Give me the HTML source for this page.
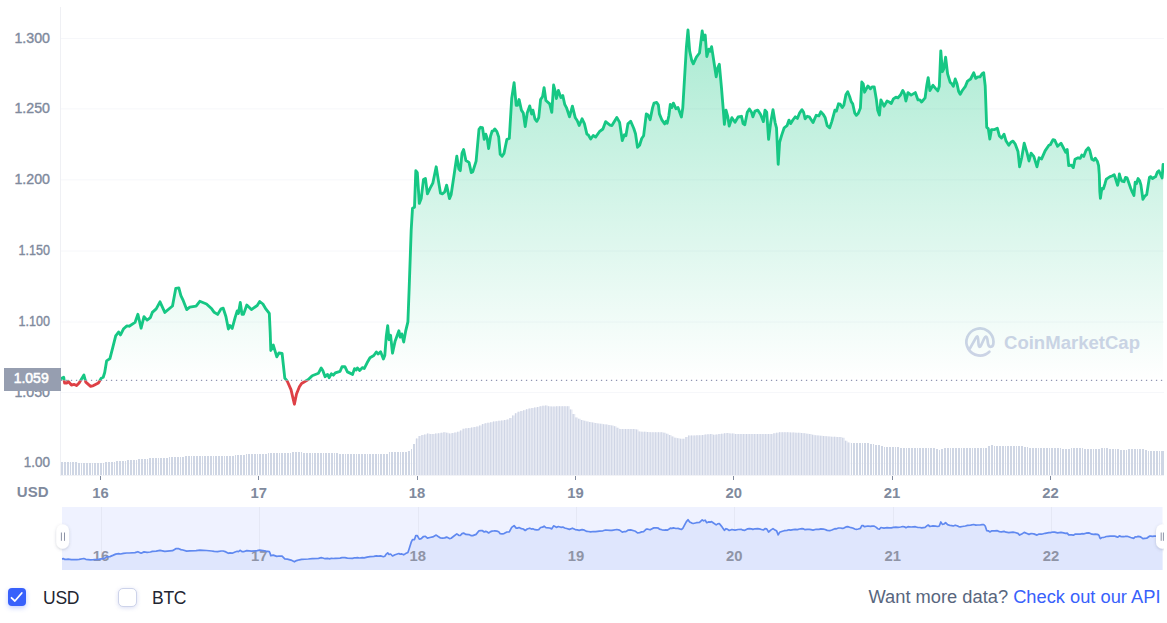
<!DOCTYPE html>
<html><head><meta charset="utf-8"><title>Chart</title>
<style>
html,body{margin:0;padding:0;background:#fff;}
body{width:1167px;height:623px;overflow:hidden;position:relative;font-family:"Liberation Sans",sans-serif;}
svg{position:absolute;left:0;top:0;}
svg text{font-family:"Liberation Sans",sans-serif;}
.cb{position:absolute;top:588px;width:18px;height:18px;border-radius:4px;box-sizing:border-box;}
.cb1{left:8px;background:#3861fb;box-shadow:0 2px 5px rgba(56,97,251,.3);}
.cb2{left:117.5px;top:587.5px;width:19px;height:19px;border-radius:5px;background:#fff;border:1px solid #cdd3ea;box-shadow:0 1px 4px rgba(88,102,200,.22);}
.lbl{position:absolute;top:586.5px;font-size:17.5px;letter-spacing:-0.25px;line-height:22px;color:#222531;white-space:nowrap;}
.api{position:absolute;top:586px;right:6.5px;font-size:18.3px;line-height:22px;color:#58667e;white-space:nowrap;}
.api span{color:#3861fb;}
</style></head><body>
<svg width="1167" height="623" viewBox="0 0 1167 623">
<defs>
<linearGradient id="gfill" gradientUnits="userSpaceOnUse" x1="0" y1="30" x2="0" y2="380.4">
<stop offset="0" stop-color="#16c784" stop-opacity="0.36"/>
<stop offset="1" stop-color="#16c784" stop-opacity="0"/>
</linearGradient>
<linearGradient id="rfill" gradientUnits="userSpaceOnUse" x1="0" y1="380.4" x2="0" y2="410">
<stop offset="0" stop-color="#de4046" stop-opacity="0"/>
<stop offset="1" stop-color="#de4046" stop-opacity="0.25"/>
</linearGradient>
<clipPath id="up"><rect x="61.0" y="0" width="1110" height="380.4"/></clipPath>
<clipPath id="dn"><rect x="61.0" y="380.4" width="1110" height="100"/></clipPath>
<clipPath id="plot"><rect x="61.0" y="0" width="1103.0" height="480"/></clipPath>
<clipPath id="all"><rect x="0" y="0" width="1164" height="623"/></clipPath>
<filter id="sh" x="-50%" y="-50%" width="200%" height="200%"><feDropShadow dx="0" dy="1" stdDeviation="1.5" flood-color="#58667e" flood-opacity="0.3"/></filter>
</defs>
<!-- grid -->
<g stroke="#f6f7fa" stroke-width="1"><line x1="61.0" x2="1164" y1="38.5" y2="38.5"/><line x1="61.0" x2="1164" y1="108.9" y2="108.9"/><line x1="61.0" x2="1164" y1="179.9" y2="179.9"/><line x1="61.0" x2="1164" y1="251.0" y2="251.0"/><line x1="61.0" x2="1164" y1="322.0" y2="322.0"/><line x1="61.0" x2="1164" y1="392.5" y2="392.5"/><line x1="61.0" x2="1164" y1="463.4" y2="463.4"/><line x1="61" x2="1164" y1="475.5" y2="475.5" stroke="#f1f2f6"/></g>
<line x1="60.5" x2="60.5" y1="7" y2="476" stroke="#eff0f4" stroke-width="1" shape-rendering="crispEdges"/>
<!-- y labels -->
<g font-size="14.5" fill="#808a9d" stroke="#808a9d" stroke-width="0.4"><text x="14.4" y="42.5" textLength="35.6" lengthAdjust="spacingAndGlyphs">1.300</text><text x="14.4" y="113.3" textLength="35.6" lengthAdjust="spacingAndGlyphs">1.250</text><text x="14.4" y="184.1" textLength="35.6" lengthAdjust="spacingAndGlyphs">1.200</text><text x="18.6" y="254.9" textLength="31.4" lengthAdjust="spacingAndGlyphs">1.150</text><text x="18.6" y="325.8" textLength="31.4" lengthAdjust="spacingAndGlyphs">1.100</text><text x="14.4" y="396.6" textLength="35.6" lengthAdjust="spacingAndGlyphs">1.050</text><text x="23.8" y="467.3" textLength="26.2" lengthAdjust="spacingAndGlyphs">1.00</text></g>
<!-- watermark -->
<g fill="none" stroke="#d0d4e8" stroke-width="2.7" stroke-linecap="round" stroke-linejoin="round">
<path d="M989.4,351.7 A13.55,13.55 0 1 1 993.5,341.7 C993.5,344.8 992.4,346.8 990.5,346.8 C988.6,346.8 988.0,344.5 987.7,341.5 C987.4,338.5 987.0,336.6 986.0,336.6 C985.0,336.6 984.4,338 983.5,340 L981,345.5 C980.5,346.6 980.0,346.9 979.5,346.9 C978.6,346.9 978.5,345 978.4,342.5 C978.3,339 978.2,336.3 977.3,336.3 C976.5,336.3 976,337.5 975.3,338.8 L969.8,348.7"/>
</g>
<text x="1004" y="349.4" font-size="19" font-weight="bold" fill="#d0d4e8" textLength="136" lengthAdjust="spacingAndGlyphs">CoinMarketCap</text>
<!-- volume -->
<path d="M61,462h2V475h-2zM64,462h2V475h-2zM67,462h2V475h-2zM70,462h1V475h-1zM72,462h2V475h-2zM75,462h2V475h-2zM78,463h2V475h-2zM81,463h1V475h-1zM83,463h2V475h-2zM86,463h2V475h-2zM89,463h2V475h-2zM92,463h1V475h-1zM94,463h2V475h-2zM97,463h2V475h-2zM100,463h2V475h-2zM103,463h1V475h-1zM105,462h2V475h-2zM108,462h2V475h-2zM111,462h2V475h-2zM114,462h1V475h-1zM116,461h2V475h-2zM119,461h2V475h-2zM122,461h2V475h-2zM125,461h1V475h-1zM127,460h2V475h-2zM130,460h2V475h-2zM133,460h2V475h-2zM136,460h1V475h-1zM138,459h2V475h-2zM141,459h2V475h-2zM144,459h2V475h-2zM147,459h1V475h-1zM149,458h2V475h-2zM152,458h2V475h-2zM155,458h2V475h-2zM158,458h1V475h-1zM160,458h2V475h-2zM163,458h2V475h-2zM166,458h2V475h-2zM169,457h1V475h-1zM171,457h2V475h-2zM174,457h2V475h-2zM177,457h2V475h-2zM180,457h1V475h-1zM182,457h2V475h-2zM185,456h2V475h-2zM188,456h2V475h-2zM191,456h1V475h-1zM193,456h2V475h-2zM196,456h2V475h-2zM199,456h2V475h-2zM202,456h1V475h-1zM204,456h2V475h-2zM207,456h2V475h-2zM210,456h2V475h-2zM213,456h1V475h-1zM215,456h2V475h-2zM218,456h2V475h-2zM221,456h2V475h-2zM224,456h1V475h-1zM226,456h2V475h-2zM229,456h2V475h-2zM232,456h2V475h-2zM235,455h1V475h-1zM237,455h2V475h-2zM240,455h2V475h-2zM243,455h2V475h-2zM246,454h1V475h-1zM248,454h2V475h-2zM251,454h2V475h-2zM254,454h2V475h-2zM257,454h1V475h-1zM259,454h2V475h-2zM262,454h2V475h-2zM265,454h2V475h-2zM268,453h1V475h-1zM270,453h2V475h-2zM273,453h2V475h-2zM276,453h2V475h-2zM279,453h1V475h-1zM281,453h2V475h-2zM284,453h2V475h-2zM287,453h2V475h-2zM290,453h1V475h-1zM292,452h2V475h-2zM295,452h2V475h-2zM298,452h2V475h-2zM301,452h1V475h-1zM303,453h2V475h-2zM306,453h2V475h-2zM309,453h2V475h-2zM312,453h1V475h-1zM314,453h2V475h-2zM317,453h2V475h-2zM320,453h2V475h-2zM323,453h1V475h-1zM325,453h2V475h-2zM328,453h2V475h-2zM331,453h2V475h-2zM334,453h1V475h-1zM336,453h2V475h-2zM339,454h2V475h-2zM342,454h2V475h-2zM345,454h1V475h-1zM347,454h2V475h-2zM350,454h2V475h-2zM353,454h2V475h-2zM356,454h1V475h-1zM358,454h2V475h-2zM361,454h2V475h-2zM364,454h2V475h-2zM367,454h1V475h-1zM369,454h2V475h-2zM372,454h2V475h-2zM375,454h2V475h-2zM378,454h1V475h-1zM380,454h2V475h-2zM383,454h2V475h-2zM386,454h2V475h-2zM389,452h1V475h-1zM391,452h2V475h-2zM394,452h2V475h-2zM397,452h2V475h-2zM400,452h1V475h-1zM402,452h2V475h-2zM405,452h2V475h-2zM408,451h2V475h-2zM411,449h1V475h-1zM413,444h2V475h-2zM851,443h1V475h-1zM853,443h2V475h-2zM856,443h2V475h-2zM859,443h2V475h-2zM862,443h1V475h-1zM864,443h2V475h-2zM867,443h2V475h-2zM870,444h2V475h-2zM873,444h1V475h-1zM875,445h2V475h-2zM878,445h2V475h-2zM881,446h2V475h-2zM884,447h1V475h-1zM886,447h2V475h-2zM889,447h2V475h-2zM892,447h2V475h-2zM895,447h1V475h-1zM897,447h2V475h-2zM900,448h2V475h-2zM903,448h2V475h-2zM906,448h1V475h-1zM908,448h2V475h-2zM911,448h2V475h-2zM914,448h2V475h-2zM917,448h1V475h-1zM919,448h2V475h-2zM922,448h2V475h-2zM925,448h2V475h-2zM928,448h1V475h-1zM930,448h2V475h-2zM933,448h2V475h-2zM936,449h2V475h-2zM939,450h1V475h-1zM941,449h2V475h-2zM944,448h2V475h-2zM947,448h2V475h-2zM950,448h1V475h-1zM952,448h2V475h-2zM955,448h2V475h-2zM958,448h2V475h-2zM961,448h1V475h-1zM963,448h2V475h-2zM966,448h2V475h-2zM969,448h2V475h-2zM972,448h1V475h-1zM974,448h2V475h-2zM977,448h2V475h-2zM980,448h2V475h-2zM983,448h1V475h-1zM985,448h2V475h-2zM988,446h2V475h-2zM991,445h2V475h-2zM994,446h1V475h-1zM996,446h2V475h-2zM999,446h2V475h-2zM1002,446h2V475h-2zM1005,446h1V475h-1zM1007,446h2V475h-2zM1010,446h2V475h-2zM1013,446h2V475h-2zM1016,446h1V475h-1zM1018,446h2V475h-2zM1021,446h2V475h-2zM1024,447h2V475h-2zM1027,447h1V475h-1zM1029,448h2V475h-2zM1032,448h2V475h-2zM1035,448h2V475h-2zM1038,448h1V475h-1zM1040,448h2V475h-2zM1043,448h2V475h-2zM1046,448h2V475h-2zM1049,448h1V475h-1zM1051,448h2V475h-2zM1054,448h2V475h-2zM1057,448h2V475h-2zM1060,448h1V475h-1zM1062,449h2V475h-2zM1065,449h2V475h-2zM1068,449h2V475h-2zM1071,448h1V475h-1zM1073,448h2V475h-2zM1076,448h2V475h-2zM1079,448h2V475h-2zM1082,448h1V475h-1zM1084,449h2V475h-2zM1087,449h2V475h-2zM1090,449h2V475h-2zM1093,449h1V475h-1zM1095,449h2V475h-2zM1098,449h2V475h-2zM1101,448h2V475h-2zM1104,448h1V475h-1zM1106,448h2V475h-2zM1109,449h2V475h-2zM1112,449h2V475h-2zM1115,449h1V475h-1zM1117,449h2V475h-2zM1120,450h2V475h-2zM1123,450h2V475h-2zM1126,450h1V475h-1zM1128,449h2V475h-2zM1131,449h2V475h-2zM1134,449h2V475h-2zM1137,449h1V475h-1zM1139,449h2V475h-2zM1142,449h2V475h-2zM1145,450h2V475h-2zM1148,451h1V475h-1zM1150,451h2V475h-2zM1153,451h2V475h-2zM1156,451h2V475h-2zM1159,451h1V475h-1zM1161,451h3V475h-3z" fill="#cfd6e4" shape-rendering="crispEdges" clip-path="url(#plot)"/>
<path d="M415.75,438.5h2.8V475h-2.8zM418.50,435.9h2.8V475h-2.8zM421.25,435.1h2.8V475h-2.8zM424.00,434.4h2.8V475h-2.8zM426.75,433.6h2.8V475h-2.8zM429.50,434.1h2.8V475h-2.8zM432.25,434.0h2.8V475h-2.8zM435.00,433.6h2.8V475h-2.8zM437.75,433.2h2.8V475h-2.8zM440.50,432.7h2.8V475h-2.8zM443.25,432.3h2.8V475h-2.8zM446.00,432.8h2.8V475h-2.8zM448.75,433.4h2.8V475h-2.8zM451.50,432.9h2.8V475h-2.8zM454.25,432.4h2.8V475h-2.8zM457.00,431.8h2.8V475h-2.8zM459.75,430.5h2.8V475h-2.8zM462.50,428.7h2.8V475h-2.8zM465.25,428.2h2.8V475h-2.8zM468.00,427.9h2.8V475h-2.8zM470.75,427.4h2.8V475h-2.8zM473.50,427.0h2.8V475h-2.8zM476.25,426.5h2.8V475h-2.8zM479.00,425.4h2.8V475h-2.8zM481.75,424.1h2.8V475h-2.8zM484.50,423.2h2.8V475h-2.8zM487.25,422.7h2.8V475h-2.8zM490.00,422.2h2.8V475h-2.8zM492.75,421.6h2.8V475h-2.8zM495.50,421.2h2.8V475h-2.8zM498.25,420.8h2.8V475h-2.8zM501.00,420.4h2.8V475h-2.8zM503.75,420.0h2.8V475h-2.8zM506.50,419.5h2.8V475h-2.8zM509.25,417.9h2.8V475h-2.8zM512.00,415.4h2.8V475h-2.8zM514.75,413.3h2.8V475h-2.8zM517.50,411.7h2.8V475h-2.8zM520.25,410.9h2.8V475h-2.8zM523.00,410.2h2.8V475h-2.8zM525.75,409.3h2.8V475h-2.8zM528.50,408.5h2.8V475h-2.8zM531.25,408.0h2.8V475h-2.8zM534.00,407.5h2.8V475h-2.8zM536.75,406.9h2.8V475h-2.8zM539.50,406.2h2.8V475h-2.8zM542.25,405.7h2.8V475h-2.8zM545.00,405.6h2.8V475h-2.8zM547.75,406.2h2.8V475h-2.8zM550.50,406.6h2.8V475h-2.8zM553.25,406.4h2.8V475h-2.8zM556.00,406.2h2.8V475h-2.8zM558.75,406.2h2.8V475h-2.8zM561.50,406.2h2.8V475h-2.8zM564.25,406.2h2.8V475h-2.8zM567.00,406.2h2.8V475h-2.8zM569.75,409.6h2.8V475h-2.8zM572.50,413.9h2.8V475h-2.8zM575.25,417.6h2.8V475h-2.8zM578.00,418.8h2.8V475h-2.8zM580.75,420.1h2.8V475h-2.8zM583.50,420.8h2.8V475h-2.8zM586.25,421.5h2.8V475h-2.8zM589.00,422.1h2.8V475h-2.8zM591.75,422.6h2.8V475h-2.8zM594.50,423.0h2.8V475h-2.8zM597.25,423.4h2.8V475h-2.8zM600.00,423.8h2.8V475h-2.8zM602.75,424.2h2.8V475h-2.8zM605.50,424.6h2.8V475h-2.8zM608.25,425.0h2.8V475h-2.8zM611.00,425.4h2.8V475h-2.8zM613.75,426.3h2.8V475h-2.8zM616.50,427.7h2.8V475h-2.8zM619.25,428.9h2.8V475h-2.8zM622.00,429.0h2.8V475h-2.8zM624.75,429.0h2.8V475h-2.8zM627.50,429.0h2.8V475h-2.8zM630.25,429.0h2.8V475h-2.8zM633.00,429.0h2.8V475h-2.8zM635.75,429.5h2.8V475h-2.8zM638.50,431.5h2.8V475h-2.8zM641.25,431.7h2.8V475h-2.8zM644.00,431.8h2.8V475h-2.8zM646.75,432.0h2.8V475h-2.8zM649.50,432.2h2.8V475h-2.8zM652.25,432.3h2.8V475h-2.8zM655.00,432.3h2.8V475h-2.8zM657.75,432.3h2.8V475h-2.8zM660.50,432.3h2.8V475h-2.8zM663.25,432.7h2.8V475h-2.8zM666.00,433.7h2.8V475h-2.8zM668.75,435.0h2.8V475h-2.8zM671.50,436.5h2.8V475h-2.8zM674.25,437.8h2.8V475h-2.8zM677.00,438.3h2.8V475h-2.8zM679.75,438.8h2.8V475h-2.8zM682.50,438.8h2.8V475h-2.8zM685.25,436.9h2.8V475h-2.8zM688.00,435.5h2.8V475h-2.8zM690.75,435.4h2.8V475h-2.8zM693.50,435.4h2.8V475h-2.8zM696.25,435.3h2.8V475h-2.8zM699.00,435.3h2.8V475h-2.8zM701.75,434.9h2.8V475h-2.8zM704.50,434.6h2.8V475h-2.8zM707.25,434.3h2.8V475h-2.8zM710.00,434.1h2.8V475h-2.8zM712.75,434.7h2.8V475h-2.8zM715.50,434.4h2.8V475h-2.8zM718.25,434.1h2.8V475h-2.8zM721.00,433.7h2.8V475h-2.8zM723.75,433.3h2.8V475h-2.8zM726.50,433.1h2.8V475h-2.8zM729.25,433.4h2.8V475h-2.8zM732.00,433.6h2.8V475h-2.8zM734.75,433.9h2.8V475h-2.8zM737.50,434.0h2.8V475h-2.8zM740.25,434.0h2.8V475h-2.8zM743.00,434.0h2.8V475h-2.8zM745.75,434.0h2.8V475h-2.8zM748.50,434.0h2.8V475h-2.8zM751.25,434.0h2.8V475h-2.8zM754.00,434.0h2.8V475h-2.8zM756.75,434.0h2.8V475h-2.8zM759.50,434.0h2.8V475h-2.8zM762.25,434.0h2.8V475h-2.8zM765.00,434.0h2.8V475h-2.8zM767.75,434.0h2.8V475h-2.8zM770.50,433.9h2.8V475h-2.8zM773.25,433.3h2.8V475h-2.8zM776.00,432.8h2.8V475h-2.8zM778.75,432.3h2.8V475h-2.8zM781.50,432.3h2.8V475h-2.8zM784.25,432.3h2.8V475h-2.8zM787.00,432.3h2.8V475h-2.8zM789.75,432.4h2.8V475h-2.8zM792.50,432.5h2.8V475h-2.8zM795.25,432.7h2.8V475h-2.8zM798.00,432.8h2.8V475h-2.8zM800.75,432.9h2.8V475h-2.8zM803.50,433.2h2.8V475h-2.8zM806.25,433.7h2.8V475h-2.8zM809.00,434.1h2.8V475h-2.8zM811.75,434.7h2.8V475h-2.8zM814.50,435.2h2.8V475h-2.8zM817.25,435.5h2.8V475h-2.8zM820.00,435.8h2.8V475h-2.8zM822.75,436.0h2.8V475h-2.8zM825.50,436.3h2.8V475h-2.8zM828.25,436.5h2.8V475h-2.8zM831.00,436.7h2.8V475h-2.8zM833.75,436.8h2.8V475h-2.8zM836.50,437.0h2.8V475h-2.8zM839.25,437.1h2.8V475h-2.8zM842.00,437.8h2.8V475h-2.8zM844.75,440.8h2.8V475h-2.8zM847.50,442.4h2.8V475h-2.8z" fill="#e7eaf3" clip-path="url(#plot)"/>
<path d="M415.95,438.5h1V475h-1zM418.70,435.9h1V475h-1zM421.45,435.1h1V475h-1zM424.20,434.4h1V475h-1zM426.95,433.6h1V475h-1zM429.70,434.1h1V475h-1zM432.45,434.0h1V475h-1zM435.20,433.6h1V475h-1zM437.95,433.2h1V475h-1zM440.70,432.7h1V475h-1zM443.45,432.3h1V475h-1zM446.20,432.8h1V475h-1zM448.95,433.4h1V475h-1zM451.70,432.9h1V475h-1zM454.45,432.4h1V475h-1zM457.20,431.8h1V475h-1zM459.95,430.5h1V475h-1zM462.70,428.7h1V475h-1zM465.45,428.2h1V475h-1zM468.20,427.9h1V475h-1zM470.95,427.4h1V475h-1zM473.70,427.0h1V475h-1zM476.45,426.5h1V475h-1zM479.20,425.4h1V475h-1zM481.95,424.1h1V475h-1zM484.70,423.2h1V475h-1zM487.45,422.7h1V475h-1zM490.20,422.2h1V475h-1zM492.95,421.6h1V475h-1zM495.70,421.2h1V475h-1zM498.45,420.8h1V475h-1zM501.20,420.4h1V475h-1zM503.95,420.0h1V475h-1zM506.70,419.5h1V475h-1zM509.45,417.9h1V475h-1zM512.20,415.4h1V475h-1zM514.95,413.3h1V475h-1zM517.70,411.7h1V475h-1zM520.45,410.9h1V475h-1zM523.20,410.2h1V475h-1zM525.95,409.3h1V475h-1zM528.70,408.5h1V475h-1zM531.45,408.0h1V475h-1zM534.20,407.5h1V475h-1zM536.95,406.9h1V475h-1zM539.70,406.2h1V475h-1zM542.45,405.7h1V475h-1zM545.20,405.6h1V475h-1zM547.95,406.2h1V475h-1zM550.70,406.6h1V475h-1zM553.45,406.4h1V475h-1zM556.20,406.2h1V475h-1zM558.95,406.2h1V475h-1zM561.70,406.2h1V475h-1zM564.45,406.2h1V475h-1zM567.20,406.2h1V475h-1zM569.95,409.6h1V475h-1zM572.70,413.9h1V475h-1zM575.45,417.6h1V475h-1zM578.20,418.8h1V475h-1zM580.95,420.1h1V475h-1zM583.70,420.8h1V475h-1zM586.45,421.5h1V475h-1zM589.20,422.1h1V475h-1zM591.95,422.6h1V475h-1zM594.70,423.0h1V475h-1zM597.45,423.4h1V475h-1zM600.20,423.8h1V475h-1zM602.95,424.2h1V475h-1zM605.70,424.6h1V475h-1zM608.45,425.0h1V475h-1zM611.20,425.4h1V475h-1zM613.95,426.3h1V475h-1zM616.70,427.7h1V475h-1zM619.45,428.9h1V475h-1zM622.20,429.0h1V475h-1zM624.95,429.0h1V475h-1zM627.70,429.0h1V475h-1zM630.45,429.0h1V475h-1zM633.20,429.0h1V475h-1zM635.95,429.5h1V475h-1zM638.70,431.5h1V475h-1zM641.45,431.7h1V475h-1zM644.20,431.8h1V475h-1zM646.95,432.0h1V475h-1zM649.70,432.2h1V475h-1zM652.45,432.3h1V475h-1zM655.20,432.3h1V475h-1zM657.95,432.3h1V475h-1zM660.70,432.3h1V475h-1zM663.45,432.7h1V475h-1zM666.20,433.7h1V475h-1zM668.95,435.0h1V475h-1zM671.70,436.5h1V475h-1zM674.45,437.8h1V475h-1zM677.20,438.3h1V475h-1zM679.95,438.8h1V475h-1zM682.70,438.8h1V475h-1zM685.45,436.9h1V475h-1zM688.20,435.5h1V475h-1zM690.95,435.4h1V475h-1zM693.70,435.4h1V475h-1zM696.45,435.3h1V475h-1zM699.20,435.3h1V475h-1zM701.95,434.9h1V475h-1zM704.70,434.6h1V475h-1zM707.45,434.3h1V475h-1zM710.20,434.1h1V475h-1zM712.95,434.7h1V475h-1zM715.70,434.4h1V475h-1zM718.45,434.1h1V475h-1zM721.20,433.7h1V475h-1zM723.95,433.3h1V475h-1zM726.70,433.1h1V475h-1zM729.45,433.4h1V475h-1zM732.20,433.6h1V475h-1zM734.95,433.9h1V475h-1zM737.70,434.0h1V475h-1zM740.45,434.0h1V475h-1zM743.20,434.0h1V475h-1zM745.95,434.0h1V475h-1zM748.70,434.0h1V475h-1zM751.45,434.0h1V475h-1zM754.20,434.0h1V475h-1zM756.95,434.0h1V475h-1zM759.70,434.0h1V475h-1zM762.45,434.0h1V475h-1zM765.20,434.0h1V475h-1zM767.95,434.0h1V475h-1zM770.70,433.9h1V475h-1zM773.45,433.3h1V475h-1zM776.20,432.8h1V475h-1zM778.95,432.3h1V475h-1zM781.70,432.3h1V475h-1zM784.45,432.3h1V475h-1zM787.20,432.3h1V475h-1zM789.95,432.4h1V475h-1zM792.70,432.5h1V475h-1zM795.45,432.7h1V475h-1zM798.20,432.8h1V475h-1zM800.95,432.9h1V475h-1zM803.70,433.2h1V475h-1zM806.45,433.7h1V475h-1zM809.20,434.1h1V475h-1zM811.95,434.7h1V475h-1zM814.70,435.2h1V475h-1zM817.45,435.5h1V475h-1zM820.20,435.8h1V475h-1zM822.95,436.0h1V475h-1zM825.70,436.3h1V475h-1zM828.45,436.5h1V475h-1zM831.20,436.7h1V475h-1zM833.95,436.8h1V475h-1zM836.70,437.0h1V475h-1zM839.45,437.1h1V475h-1zM842.20,437.8h1V475h-1zM844.95,440.8h1V475h-1zM847.70,442.4h1V475h-1z" fill="#ced4e4" clip-path="url(#plot)"/>
<!-- area + line -->
<g clip-path="url(#plot)">
<path d="M61.2,378.6 L63.7,377.3 L64.6,383.1 L66.9,383.0 L68.1,381.2 L71.4,385.0 L74.3,384.4 L76.6,385.6 L79.1,383.0 L83.9,375.0 L85.8,382.1 L90.6,386.4 L93.5,385.6 L98.4,383.0 L101.2,378.3 L103.2,377.3 L104.7,372.5 L106.6,360.9 L109.9,358.6 L112.8,347.4 L115.7,335.9 L118.6,332.0 L120.5,334.9 L123.4,329.1 L126.7,325.9 L129.2,326.2 L135.0,322.4 L137.9,314.3 L141.1,328.2 L144.0,316.6 L147.1,320.1 L150.4,317.6 L152.3,312.4 L156.2,308.9 L160.0,301.8 L164.8,312.4 L172.5,306.0 L175.8,288.3 L178.8,287.9 L180.9,295.7 L182.9,299.8 L186.7,309.6 L189.8,307.1 L196.1,306.1 L199.8,301.3 L206.5,304.0 L211.7,308.8 L214.2,312.3 L217.6,314.4 L221.1,308.8 L223.2,308.2 L225.9,316.5 L228.4,329.0 L229.9,325.5 L232.2,328.4 L235.1,317.6 L237.2,310.9 L238.4,313.4 L240.3,302.5 L242.0,314.4 L243.5,314.4 L246.8,305.0 L251.4,309.6 L257.2,305.5 L259.7,301.5 L262.9,304.0 L266.0,309.2 L269.3,313.4 L270.2,332.2 L270.8,350.5 L273.3,345.1 L276.8,356.8 L278.9,353.0 L282.1,353.5 L284.8,378.1 L287.3,381.2 L291.0,389.6 L294.4,404.2 L296.5,394.0 L299.4,386.8 L301.6,383.4 L308.3,379.6 L312.2,375.7 L318.5,373.2 L321.2,368.0 L322.8,370.5 L325.1,376.7 L327.6,374.4 L329.1,377.7 L331.4,373.8 L333.4,375.2 L335.3,372.9 L340.1,371.3 L342.0,366.7 L344.9,366.7 L347.4,371.9 L352.6,374.4 L354.5,368.6 L356.1,370.0 L357.4,368.0 L359.7,370.5 L362.3,367.6 L364.2,368.6 L367.1,362.8 L370.0,357.8 L373.8,355.5 L376.3,352.0 L378.2,354.0 L380.6,351.7 L383.4,359.0 L384.8,355.5 L386.3,336.2 L387.7,325.6 L389.0,339.7 L390.6,335.3 L392.5,353.2 L395.0,341.6 L398.9,330.8 L400.2,337.2 L401.8,333.9 L403.7,342.0 L405.6,331.4 L407.9,321.8 L409.1,290.0 L411.2,230.0 L412.5,208.3 L414.5,207.3 L415.8,170.7 L417.3,172.6 L419.3,203.4 L421.2,198.6 L423.5,179.4 L425.4,178.4 L427.4,193.8 L429.9,188.6 L432.8,183.2 L436.2,166.8 L438.2,179.4 L440.5,193.2 L442.4,193.8 L444.7,191.9 L446.6,185.1 L449.5,198.6 L451.1,194.8 L454.0,175.5 L456.8,156.2 L458.8,168.8 L460.3,170.7 L462.0,153.4 L463.6,149.5 L465.9,160.5 L469.0,162.4 L471.3,172.6 L472.8,171.7 L476.1,161.1 L479.0,129.3 L480.5,127.3 L482.5,127.7 L484.2,139.3 L485.7,134.1 L487.1,137.9 L488.6,148.5 L490.6,136.0 L492.1,131.2 L493.4,130.8 L494.8,128.9 L496.9,131.6 L498.7,137.0 L500.2,154.3 L502.1,156.2 L504.0,153.4 L506.9,139.3 L509.3,138.5 L511.7,98.5 L514.1,82.7 L516.2,105.3 L517.5,105.3 L519.1,99.5 L521.4,110.1 L523.3,113.0 L525.2,126.5 L527.2,113.0 L529.7,105.9 L531.6,114.0 L532.9,110.1 L534.9,118.8 L536.8,121.3 L538.7,117.8 L540.6,99.5 L542.6,96.6 L544.1,87.6 L545.9,100.5 L549.7,103.9 L551.8,112.4 L553.6,85.0 L555.1,90.8 L556.4,98.5 L558.4,90.4 L560.9,97.6 L562.8,95.6 L564.7,104.3 L566.7,108.2 L569.5,116.8 L572.4,106.2 L575.3,117.8 L577.3,120.7 L579.2,125.5 L582.1,118.8 L584.4,123.6 L586.9,134.2 L588.2,134.8 L590.7,139.0 L593.2,135.5 L595.6,137.1 L599.4,131.7 L602.9,129.0 L605.6,121.7 L610.0,125.1 L611.9,125.5 L616.8,117.4 L619.6,122.4 L622.3,140.6 L624.4,134.8 L625.9,135.8 L627.9,123.9 L630.7,121.2 L633.8,128.5 L635.5,133.7 L637.5,147.3 L639.6,145.2 L641.7,138.5 L643.6,135.8 L646.3,113.9 L648.0,115.0 L650.1,119.7 L652.6,107.6 L654.0,103.1 L656.7,102.4 L658.4,105.1 L659.4,113.9 L662.0,120.2 L664.7,123.9 L666.1,121.2 L667.2,123.3 L668.8,116.0 L670.3,104.5 L671.8,107.6 L673.4,103.1 L675.9,108.7 L678.0,107.6 L681.4,117.0 L682.8,107.6 L684.9,72.2 L686.4,47.1 L688.0,30.0 L689.7,51.3 L691.8,60.7 L693.3,63.8 L696.4,57.1 L699.5,53.0 L702.2,30.9 L703.5,39.8 L705.2,35.0 L706.8,56.5 L708.9,49.2 L710.2,51.3 L711.6,46.7 L713.1,56.5 L716.2,76.8 L717.7,68.0 L719.3,64.2 L721.4,86.8 L723.1,107.6 L724.4,124.3 L726.0,110.2 L727.7,116.4 L729.2,126.0 L731.9,117.7 L735.0,122.3 L738.1,117.0 L741.5,116.3 L743.1,123.6 L744.8,124.7 L747.3,112.2 L749.4,109.0 L751.5,112.2 L752.9,116.8 L755.0,111.1 L757.7,110.1 L760.5,114.3 L763.4,121.6 L765.0,110.1 L766.7,112.2 L768.6,139.3 L770.7,122.6 L773.0,109.7 L775.1,122.6 L776.5,127.8 L778.2,164.3 L779.6,142.4 L781.7,135.1 L784.2,127.8 L787.0,125.7 L789.0,120.1 L790.7,123.6 L793.2,119.5 L795.3,116.8 L797.4,118.4 L799.5,113.2 L802.0,109.7 L803.6,112.2 L805.1,118.8 L807.2,116.3 L809.3,116.8 L811.0,119.5 L813.0,122.6 L816.2,115.3 L818.9,115.9 L820.8,111.8 L823.5,114.7 L825.1,117.4 L827.2,125.7 L829.7,127.8 L831.8,121.6 L834.9,110.1 L836.4,111.1 L838.5,103.8 L840.2,104.2 L842.3,107.6 L843.9,104.9 L846.0,94.4 L847.7,91.7 L849.6,96.5 L851.2,101.7 L852.7,103.8 L854.8,113.2 L856.4,115.3 L858.3,113.2 L860.4,108.0 L861.8,82.0 L863.2,83.8 L864.6,92.2 L867.9,85.9 L870.4,88.8 L872.1,86.8 L874.2,86.8 L876.3,98.9 L877.7,110.3 L879.4,115.1 L880.9,99.9 L884.0,106.2 L887.1,101.0 L889.2,102.0 L891.3,103.5 L893.4,98.9 L895.9,97.2 L898.0,97.8 L900.7,94.7 L902.8,90.5 L904.4,93.6 L905.9,101.0 L908.0,92.6 L911.1,95.1 L915.3,92.6 L918.0,99.9 L919.9,99.9 L921.6,102.0 L925.1,97.8 L926.8,85.3 L928.2,77.6 L929.9,90.5 L933.0,85.3 L935.5,88.4 L937.8,90.9 L939.3,86.3 L940.8,50.9 L942.4,71.7 L943.9,68.6 L945.6,57.1 L947.6,73.8 L950.1,82.2 L951.8,83.8 L953.3,86.3 L955.2,79.0 L957.0,83.8 L958.7,91.6 L960.2,94.3 L962.3,90.5 L965.4,86.3 L967.5,81.1 L970.6,79.0 L973.7,72.8 L975.8,78.4 L977.9,76.9 L980.0,76.9 L982.1,73.8 L983.7,72.8 L985.2,86.0 L986.7,127.3 L988.3,128.6 L989.8,139.0 L991.5,129.6 L994.6,129.6 L997.3,128.2 L999.4,135.9 L1001.5,138.0 L1004.0,134.2 L1006.1,141.1 L1008.8,145.3 L1010.9,142.2 L1013.0,141.1 L1015.1,143.8 L1018.0,151.6 L1019.6,166.8 L1021.7,157.8 L1024.2,143.2 L1027.0,152.6 L1029.0,161.0 L1031.1,153.2 L1033.8,156.4 L1037.0,166.8 L1039.1,157.8 L1041.6,158.9 L1045.1,150.9 L1048.9,145.3 L1050.3,144.7 L1053.0,139.7 L1054.7,140.1 L1057.6,146.3 L1061.0,143.2 L1063.5,148.0 L1065.6,152.2 L1067.2,149.5 L1068.7,165.5 L1071.4,165.1 L1073.3,167.6 L1075.0,159.3 L1078.1,157.8 L1080.2,158.4 L1081.8,155.1 L1083.7,156.4 L1086.0,150.5 L1088.3,147.8 L1089.8,150.5 L1091.9,159.3 L1093.7,160.3 L1095.3,158.2 L1097.3,161.2 L1098.6,165.7 L1099.3,174.7 L1099.8,191.4 L1100.4,198.4 L1101.4,191.4 L1102.2,188.5 L1103.4,188.8 L1105.0,183.7 L1106.3,179.2 L1108.2,177.9 L1110.1,176.6 L1112.0,176.0 L1114.2,174.7 L1115.5,178.5 L1117.6,185.2 L1118.5,181.1 L1119.4,174.0 L1120.6,178.5 L1121.9,181.1 L1124.0,181.7 L1125.5,177.5 L1127.1,177.9 L1128.7,182.4 L1130.7,188.2 L1132.2,192.0 L1133.9,195.5 L1135.2,182.1 L1136.4,183.7 L1138.1,178.5 L1139.7,180.8 L1140.9,184.9 L1142.9,199.3 L1144.8,196.2 L1146.7,194.6 L1148.4,183.7 L1149.5,177.2 L1150.8,176.6 L1152.5,178.5 L1154.4,177.2 L1155.7,176.6 L1157.4,172.1 L1158.9,170.8 L1160.4,174.0 L1162.1,177.9 L1163.1,164.4 L1163.1,380.4 L61.2,380.4 Z" fill="url(#gfill)" clip-path="url(#up)"/>
<path d="M61.2,378.6 L63.7,377.3 L64.6,383.1 L66.9,383.0 L68.1,381.2 L71.4,385.0 L74.3,384.4 L76.6,385.6 L79.1,383.0 L83.9,375.0 L85.8,382.1 L90.6,386.4 L93.5,385.6 L98.4,383.0 L101.2,378.3 L103.2,377.3 L104.7,372.5 L106.6,360.9 L109.9,358.6 L112.8,347.4 L115.7,335.9 L118.6,332.0 L120.5,334.9 L123.4,329.1 L126.7,325.9 L129.2,326.2 L135.0,322.4 L137.9,314.3 L141.1,328.2 L144.0,316.6 L147.1,320.1 L150.4,317.6 L152.3,312.4 L156.2,308.9 L160.0,301.8 L164.8,312.4 L172.5,306.0 L175.8,288.3 L178.8,287.9 L180.9,295.7 L182.9,299.8 L186.7,309.6 L189.8,307.1 L196.1,306.1 L199.8,301.3 L206.5,304.0 L211.7,308.8 L214.2,312.3 L217.6,314.4 L221.1,308.8 L223.2,308.2 L225.9,316.5 L228.4,329.0 L229.9,325.5 L232.2,328.4 L235.1,317.6 L237.2,310.9 L238.4,313.4 L240.3,302.5 L242.0,314.4 L243.5,314.4 L246.8,305.0 L251.4,309.6 L257.2,305.5 L259.7,301.5 L262.9,304.0 L266.0,309.2 L269.3,313.4 L270.2,332.2 L270.8,350.5 L273.3,345.1 L276.8,356.8 L278.9,353.0 L282.1,353.5 L284.8,378.1 L287.3,381.2 L291.0,389.6 L294.4,404.2 L296.5,394.0 L299.4,386.8 L301.6,383.4 L308.3,379.6 L312.2,375.7 L318.5,373.2 L321.2,368.0 L322.8,370.5 L325.1,376.7 L327.6,374.4 L329.1,377.7 L331.4,373.8 L333.4,375.2 L335.3,372.9 L340.1,371.3 L342.0,366.7 L344.9,366.7 L347.4,371.9 L352.6,374.4 L354.5,368.6 L356.1,370.0 L357.4,368.0 L359.7,370.5 L362.3,367.6 L364.2,368.6 L367.1,362.8 L370.0,357.8 L373.8,355.5 L376.3,352.0 L378.2,354.0 L380.6,351.7 L383.4,359.0 L384.8,355.5 L386.3,336.2 L387.7,325.6 L389.0,339.7 L390.6,335.3 L392.5,353.2 L395.0,341.6 L398.9,330.8 L400.2,337.2 L401.8,333.9 L403.7,342.0 L405.6,331.4 L407.9,321.8 L409.1,290.0 L411.2,230.0 L412.5,208.3 L414.5,207.3 L415.8,170.7 L417.3,172.6 L419.3,203.4 L421.2,198.6 L423.5,179.4 L425.4,178.4 L427.4,193.8 L429.9,188.6 L432.8,183.2 L436.2,166.8 L438.2,179.4 L440.5,193.2 L442.4,193.8 L444.7,191.9 L446.6,185.1 L449.5,198.6 L451.1,194.8 L454.0,175.5 L456.8,156.2 L458.8,168.8 L460.3,170.7 L462.0,153.4 L463.6,149.5 L465.9,160.5 L469.0,162.4 L471.3,172.6 L472.8,171.7 L476.1,161.1 L479.0,129.3 L480.5,127.3 L482.5,127.7 L484.2,139.3 L485.7,134.1 L487.1,137.9 L488.6,148.5 L490.6,136.0 L492.1,131.2 L493.4,130.8 L494.8,128.9 L496.9,131.6 L498.7,137.0 L500.2,154.3 L502.1,156.2 L504.0,153.4 L506.9,139.3 L509.3,138.5 L511.7,98.5 L514.1,82.7 L516.2,105.3 L517.5,105.3 L519.1,99.5 L521.4,110.1 L523.3,113.0 L525.2,126.5 L527.2,113.0 L529.7,105.9 L531.6,114.0 L532.9,110.1 L534.9,118.8 L536.8,121.3 L538.7,117.8 L540.6,99.5 L542.6,96.6 L544.1,87.6 L545.9,100.5 L549.7,103.9 L551.8,112.4 L553.6,85.0 L555.1,90.8 L556.4,98.5 L558.4,90.4 L560.9,97.6 L562.8,95.6 L564.7,104.3 L566.7,108.2 L569.5,116.8 L572.4,106.2 L575.3,117.8 L577.3,120.7 L579.2,125.5 L582.1,118.8 L584.4,123.6 L586.9,134.2 L588.2,134.8 L590.7,139.0 L593.2,135.5 L595.6,137.1 L599.4,131.7 L602.9,129.0 L605.6,121.7 L610.0,125.1 L611.9,125.5 L616.8,117.4 L619.6,122.4 L622.3,140.6 L624.4,134.8 L625.9,135.8 L627.9,123.9 L630.7,121.2 L633.8,128.5 L635.5,133.7 L637.5,147.3 L639.6,145.2 L641.7,138.5 L643.6,135.8 L646.3,113.9 L648.0,115.0 L650.1,119.7 L652.6,107.6 L654.0,103.1 L656.7,102.4 L658.4,105.1 L659.4,113.9 L662.0,120.2 L664.7,123.9 L666.1,121.2 L667.2,123.3 L668.8,116.0 L670.3,104.5 L671.8,107.6 L673.4,103.1 L675.9,108.7 L678.0,107.6 L681.4,117.0 L682.8,107.6 L684.9,72.2 L686.4,47.1 L688.0,30.0 L689.7,51.3 L691.8,60.7 L693.3,63.8 L696.4,57.1 L699.5,53.0 L702.2,30.9 L703.5,39.8 L705.2,35.0 L706.8,56.5 L708.9,49.2 L710.2,51.3 L711.6,46.7 L713.1,56.5 L716.2,76.8 L717.7,68.0 L719.3,64.2 L721.4,86.8 L723.1,107.6 L724.4,124.3 L726.0,110.2 L727.7,116.4 L729.2,126.0 L731.9,117.7 L735.0,122.3 L738.1,117.0 L741.5,116.3 L743.1,123.6 L744.8,124.7 L747.3,112.2 L749.4,109.0 L751.5,112.2 L752.9,116.8 L755.0,111.1 L757.7,110.1 L760.5,114.3 L763.4,121.6 L765.0,110.1 L766.7,112.2 L768.6,139.3 L770.7,122.6 L773.0,109.7 L775.1,122.6 L776.5,127.8 L778.2,164.3 L779.6,142.4 L781.7,135.1 L784.2,127.8 L787.0,125.7 L789.0,120.1 L790.7,123.6 L793.2,119.5 L795.3,116.8 L797.4,118.4 L799.5,113.2 L802.0,109.7 L803.6,112.2 L805.1,118.8 L807.2,116.3 L809.3,116.8 L811.0,119.5 L813.0,122.6 L816.2,115.3 L818.9,115.9 L820.8,111.8 L823.5,114.7 L825.1,117.4 L827.2,125.7 L829.7,127.8 L831.8,121.6 L834.9,110.1 L836.4,111.1 L838.5,103.8 L840.2,104.2 L842.3,107.6 L843.9,104.9 L846.0,94.4 L847.7,91.7 L849.6,96.5 L851.2,101.7 L852.7,103.8 L854.8,113.2 L856.4,115.3 L858.3,113.2 L860.4,108.0 L861.8,82.0 L863.2,83.8 L864.6,92.2 L867.9,85.9 L870.4,88.8 L872.1,86.8 L874.2,86.8 L876.3,98.9 L877.7,110.3 L879.4,115.1 L880.9,99.9 L884.0,106.2 L887.1,101.0 L889.2,102.0 L891.3,103.5 L893.4,98.9 L895.9,97.2 L898.0,97.8 L900.7,94.7 L902.8,90.5 L904.4,93.6 L905.9,101.0 L908.0,92.6 L911.1,95.1 L915.3,92.6 L918.0,99.9 L919.9,99.9 L921.6,102.0 L925.1,97.8 L926.8,85.3 L928.2,77.6 L929.9,90.5 L933.0,85.3 L935.5,88.4 L937.8,90.9 L939.3,86.3 L940.8,50.9 L942.4,71.7 L943.9,68.6 L945.6,57.1 L947.6,73.8 L950.1,82.2 L951.8,83.8 L953.3,86.3 L955.2,79.0 L957.0,83.8 L958.7,91.6 L960.2,94.3 L962.3,90.5 L965.4,86.3 L967.5,81.1 L970.6,79.0 L973.7,72.8 L975.8,78.4 L977.9,76.9 L980.0,76.9 L982.1,73.8 L983.7,72.8 L985.2,86.0 L986.7,127.3 L988.3,128.6 L989.8,139.0 L991.5,129.6 L994.6,129.6 L997.3,128.2 L999.4,135.9 L1001.5,138.0 L1004.0,134.2 L1006.1,141.1 L1008.8,145.3 L1010.9,142.2 L1013.0,141.1 L1015.1,143.8 L1018.0,151.6 L1019.6,166.8 L1021.7,157.8 L1024.2,143.2 L1027.0,152.6 L1029.0,161.0 L1031.1,153.2 L1033.8,156.4 L1037.0,166.8 L1039.1,157.8 L1041.6,158.9 L1045.1,150.9 L1048.9,145.3 L1050.3,144.7 L1053.0,139.7 L1054.7,140.1 L1057.6,146.3 L1061.0,143.2 L1063.5,148.0 L1065.6,152.2 L1067.2,149.5 L1068.7,165.5 L1071.4,165.1 L1073.3,167.6 L1075.0,159.3 L1078.1,157.8 L1080.2,158.4 L1081.8,155.1 L1083.7,156.4 L1086.0,150.5 L1088.3,147.8 L1089.8,150.5 L1091.9,159.3 L1093.7,160.3 L1095.3,158.2 L1097.3,161.2 L1098.6,165.7 L1099.3,174.7 L1099.8,191.4 L1100.4,198.4 L1101.4,191.4 L1102.2,188.5 L1103.4,188.8 L1105.0,183.7 L1106.3,179.2 L1108.2,177.9 L1110.1,176.6 L1112.0,176.0 L1114.2,174.7 L1115.5,178.5 L1117.6,185.2 L1118.5,181.1 L1119.4,174.0 L1120.6,178.5 L1121.9,181.1 L1124.0,181.7 L1125.5,177.5 L1127.1,177.9 L1128.7,182.4 L1130.7,188.2 L1132.2,192.0 L1133.9,195.5 L1135.2,182.1 L1136.4,183.7 L1138.1,178.5 L1139.7,180.8 L1140.9,184.9 L1142.9,199.3 L1144.8,196.2 L1146.7,194.6 L1148.4,183.7 L1149.5,177.2 L1150.8,176.6 L1152.5,178.5 L1154.4,177.2 L1155.7,176.6 L1157.4,172.1 L1158.9,170.8 L1160.4,174.0 L1162.1,177.9 L1163.1,164.4" fill="none" stroke="#16c784" stroke-width="2.85" stroke-linejoin="round" stroke-linecap="round" clip-path="url(#up)"/>
<path d="M61.2,378.6 L63.7,377.3 L64.6,383.1 L66.9,383.0 L68.1,381.2 L71.4,385.0 L74.3,384.4 L76.6,385.6 L79.1,383.0 L83.9,375.0 L85.8,382.1 L90.6,386.4 L93.5,385.6 L98.4,383.0 L101.2,378.3 L103.2,377.3 L104.7,372.5 L106.6,360.9 L109.9,358.6 L112.8,347.4 L115.7,335.9 L118.6,332.0 L120.5,334.9 L123.4,329.1 L126.7,325.9 L129.2,326.2 L135.0,322.4 L137.9,314.3 L141.1,328.2 L144.0,316.6 L147.1,320.1 L150.4,317.6 L152.3,312.4 L156.2,308.9 L160.0,301.8 L164.8,312.4 L172.5,306.0 L175.8,288.3 L178.8,287.9 L180.9,295.7 L182.9,299.8 L186.7,309.6 L189.8,307.1 L196.1,306.1 L199.8,301.3 L206.5,304.0 L211.7,308.8 L214.2,312.3 L217.6,314.4 L221.1,308.8 L223.2,308.2 L225.9,316.5 L228.4,329.0 L229.9,325.5 L232.2,328.4 L235.1,317.6 L237.2,310.9 L238.4,313.4 L240.3,302.5 L242.0,314.4 L243.5,314.4 L246.8,305.0 L251.4,309.6 L257.2,305.5 L259.7,301.5 L262.9,304.0 L266.0,309.2 L269.3,313.4 L270.2,332.2 L270.8,350.5 L273.3,345.1 L276.8,356.8 L278.9,353.0 L282.1,353.5 L284.8,378.1 L287.3,381.2 L291.0,389.6 L294.4,404.2 L296.5,394.0 L299.4,386.8 L301.6,383.4 L308.3,379.6 L312.2,375.7 L318.5,373.2 L321.2,368.0 L322.8,370.5 L325.1,376.7 L327.6,374.4 L329.1,377.7 L331.4,373.8 L333.4,375.2 L335.3,372.9 L340.1,371.3 L342.0,366.7 L344.9,366.7 L347.4,371.9 L352.6,374.4 L354.5,368.6 L356.1,370.0 L357.4,368.0 L359.7,370.5 L362.3,367.6 L364.2,368.6 L367.1,362.8 L370.0,357.8 L373.8,355.5 L376.3,352.0 L378.2,354.0 L380.6,351.7 L383.4,359.0 L384.8,355.5 L386.3,336.2 L387.7,325.6 L389.0,339.7 L390.6,335.3 L392.5,353.2 L395.0,341.6 L398.9,330.8 L400.2,337.2 L401.8,333.9 L403.7,342.0 L405.6,331.4 L407.9,321.8 L409.1,290.0 L411.2,230.0 L412.5,208.3 L414.5,207.3 L415.8,170.7 L417.3,172.6 L419.3,203.4 L421.2,198.6 L423.5,179.4 L425.4,178.4 L427.4,193.8 L429.9,188.6 L432.8,183.2 L436.2,166.8 L438.2,179.4 L440.5,193.2 L442.4,193.8 L444.7,191.9 L446.6,185.1 L449.5,198.6 L451.1,194.8 L454.0,175.5 L456.8,156.2 L458.8,168.8 L460.3,170.7 L462.0,153.4 L463.6,149.5 L465.9,160.5 L469.0,162.4 L471.3,172.6 L472.8,171.7 L476.1,161.1 L479.0,129.3 L480.5,127.3 L482.5,127.7 L484.2,139.3 L485.7,134.1 L487.1,137.9 L488.6,148.5 L490.6,136.0 L492.1,131.2 L493.4,130.8 L494.8,128.9 L496.9,131.6 L498.7,137.0 L500.2,154.3 L502.1,156.2 L504.0,153.4 L506.9,139.3 L509.3,138.5 L511.7,98.5 L514.1,82.7 L516.2,105.3 L517.5,105.3 L519.1,99.5 L521.4,110.1 L523.3,113.0 L525.2,126.5 L527.2,113.0 L529.7,105.9 L531.6,114.0 L532.9,110.1 L534.9,118.8 L536.8,121.3 L538.7,117.8 L540.6,99.5 L542.6,96.6 L544.1,87.6 L545.9,100.5 L549.7,103.9 L551.8,112.4 L553.6,85.0 L555.1,90.8 L556.4,98.5 L558.4,90.4 L560.9,97.6 L562.8,95.6 L564.7,104.3 L566.7,108.2 L569.5,116.8 L572.4,106.2 L575.3,117.8 L577.3,120.7 L579.2,125.5 L582.1,118.8 L584.4,123.6 L586.9,134.2 L588.2,134.8 L590.7,139.0 L593.2,135.5 L595.6,137.1 L599.4,131.7 L602.9,129.0 L605.6,121.7 L610.0,125.1 L611.9,125.5 L616.8,117.4 L619.6,122.4 L622.3,140.6 L624.4,134.8 L625.9,135.8 L627.9,123.9 L630.7,121.2 L633.8,128.5 L635.5,133.7 L637.5,147.3 L639.6,145.2 L641.7,138.5 L643.6,135.8 L646.3,113.9 L648.0,115.0 L650.1,119.7 L652.6,107.6 L654.0,103.1 L656.7,102.4 L658.4,105.1 L659.4,113.9 L662.0,120.2 L664.7,123.9 L666.1,121.2 L667.2,123.3 L668.8,116.0 L670.3,104.5 L671.8,107.6 L673.4,103.1 L675.9,108.7 L678.0,107.6 L681.4,117.0 L682.8,107.6 L684.9,72.2 L686.4,47.1 L688.0,30.0 L689.7,51.3 L691.8,60.7 L693.3,63.8 L696.4,57.1 L699.5,53.0 L702.2,30.9 L703.5,39.8 L705.2,35.0 L706.8,56.5 L708.9,49.2 L710.2,51.3 L711.6,46.7 L713.1,56.5 L716.2,76.8 L717.7,68.0 L719.3,64.2 L721.4,86.8 L723.1,107.6 L724.4,124.3 L726.0,110.2 L727.7,116.4 L729.2,126.0 L731.9,117.7 L735.0,122.3 L738.1,117.0 L741.5,116.3 L743.1,123.6 L744.8,124.7 L747.3,112.2 L749.4,109.0 L751.5,112.2 L752.9,116.8 L755.0,111.1 L757.7,110.1 L760.5,114.3 L763.4,121.6 L765.0,110.1 L766.7,112.2 L768.6,139.3 L770.7,122.6 L773.0,109.7 L775.1,122.6 L776.5,127.8 L778.2,164.3 L779.6,142.4 L781.7,135.1 L784.2,127.8 L787.0,125.7 L789.0,120.1 L790.7,123.6 L793.2,119.5 L795.3,116.8 L797.4,118.4 L799.5,113.2 L802.0,109.7 L803.6,112.2 L805.1,118.8 L807.2,116.3 L809.3,116.8 L811.0,119.5 L813.0,122.6 L816.2,115.3 L818.9,115.9 L820.8,111.8 L823.5,114.7 L825.1,117.4 L827.2,125.7 L829.7,127.8 L831.8,121.6 L834.9,110.1 L836.4,111.1 L838.5,103.8 L840.2,104.2 L842.3,107.6 L843.9,104.9 L846.0,94.4 L847.7,91.7 L849.6,96.5 L851.2,101.7 L852.7,103.8 L854.8,113.2 L856.4,115.3 L858.3,113.2 L860.4,108.0 L861.8,82.0 L863.2,83.8 L864.6,92.2 L867.9,85.9 L870.4,88.8 L872.1,86.8 L874.2,86.8 L876.3,98.9 L877.7,110.3 L879.4,115.1 L880.9,99.9 L884.0,106.2 L887.1,101.0 L889.2,102.0 L891.3,103.5 L893.4,98.9 L895.9,97.2 L898.0,97.8 L900.7,94.7 L902.8,90.5 L904.4,93.6 L905.9,101.0 L908.0,92.6 L911.1,95.1 L915.3,92.6 L918.0,99.9 L919.9,99.9 L921.6,102.0 L925.1,97.8 L926.8,85.3 L928.2,77.6 L929.9,90.5 L933.0,85.3 L935.5,88.4 L937.8,90.9 L939.3,86.3 L940.8,50.9 L942.4,71.7 L943.9,68.6 L945.6,57.1 L947.6,73.8 L950.1,82.2 L951.8,83.8 L953.3,86.3 L955.2,79.0 L957.0,83.8 L958.7,91.6 L960.2,94.3 L962.3,90.5 L965.4,86.3 L967.5,81.1 L970.6,79.0 L973.7,72.8 L975.8,78.4 L977.9,76.9 L980.0,76.9 L982.1,73.8 L983.7,72.8 L985.2,86.0 L986.7,127.3 L988.3,128.6 L989.8,139.0 L991.5,129.6 L994.6,129.6 L997.3,128.2 L999.4,135.9 L1001.5,138.0 L1004.0,134.2 L1006.1,141.1 L1008.8,145.3 L1010.9,142.2 L1013.0,141.1 L1015.1,143.8 L1018.0,151.6 L1019.6,166.8 L1021.7,157.8 L1024.2,143.2 L1027.0,152.6 L1029.0,161.0 L1031.1,153.2 L1033.8,156.4 L1037.0,166.8 L1039.1,157.8 L1041.6,158.9 L1045.1,150.9 L1048.9,145.3 L1050.3,144.7 L1053.0,139.7 L1054.7,140.1 L1057.6,146.3 L1061.0,143.2 L1063.5,148.0 L1065.6,152.2 L1067.2,149.5 L1068.7,165.5 L1071.4,165.1 L1073.3,167.6 L1075.0,159.3 L1078.1,157.8 L1080.2,158.4 L1081.8,155.1 L1083.7,156.4 L1086.0,150.5 L1088.3,147.8 L1089.8,150.5 L1091.9,159.3 L1093.7,160.3 L1095.3,158.2 L1097.3,161.2 L1098.6,165.7 L1099.3,174.7 L1099.8,191.4 L1100.4,198.4 L1101.4,191.4 L1102.2,188.5 L1103.4,188.8 L1105.0,183.7 L1106.3,179.2 L1108.2,177.9 L1110.1,176.6 L1112.0,176.0 L1114.2,174.7 L1115.5,178.5 L1117.6,185.2 L1118.5,181.1 L1119.4,174.0 L1120.6,178.5 L1121.9,181.1 L1124.0,181.7 L1125.5,177.5 L1127.1,177.9 L1128.7,182.4 L1130.7,188.2 L1132.2,192.0 L1133.9,195.5 L1135.2,182.1 L1136.4,183.7 L1138.1,178.5 L1139.7,180.8 L1140.9,184.9 L1142.9,199.3 L1144.8,196.2 L1146.7,194.6 L1148.4,183.7 L1149.5,177.2 L1150.8,176.6 L1152.5,178.5 L1154.4,177.2 L1155.7,176.6 L1157.4,172.1 L1158.9,170.8 L1160.4,174.0 L1162.1,177.9 L1163.1,164.4" fill="none" stroke="#de4046" stroke-width="2.85" stroke-linejoin="round" stroke-linecap="round" clip-path="url(#dn)"/>
<line x1="60.9" x2="1164" y1="380.4" y2="380.4" stroke="#9096b3" stroke-width="1.25" stroke-dasharray="1.3 3.7"/>
</g>
<!-- current price label -->
<rect x="4" y="368" width="57" height="23" fill="#969eb0"/>
<text x="48.7" y="383.4" font-size="14" fill="#fff" text-anchor="end" stroke="#fff" stroke-width="0.55">1.059</text>
<!-- x axis -->
<g stroke="#808a9d" stroke-width="1" shape-rendering="crispEdges"><line x1="100.4" x2="100.4" y1="476" y2="480"/><line x1="258.7" x2="258.7" y1="476" y2="480"/><line x1="417.1" x2="417.1" y1="476" y2="480"/><line x1="575.4" x2="575.4" y1="476" y2="480"/><line x1="733.7" x2="733.7" y1="476" y2="480"/><line x1="892.1" x2="892.1" y1="476" y2="480"/><line x1="1050.4" x2="1050.4" y1="476" y2="480"/></g>
<g font-size="14.8" font-weight="bold" fill="#808a9d"><text x="100.4" y="498" text-anchor="middle">16</text><text x="258.7" y="498" text-anchor="middle">17</text><text x="417.1" y="498" text-anchor="middle">18</text><text x="575.4" y="498" text-anchor="middle">19</text><text x="733.7" y="498" text-anchor="middle">20</text><text x="892.1" y="498" text-anchor="middle">21</text><text x="1050.4" y="498" text-anchor="middle">22</text><text x="16.8" y="497.3" font-size="15">USD</text></g>
<!-- navigator -->
<g clip-path="url(#all)">
<rect x="62" y="507" width="1100.5" height="63" fill="#eff2ff"/>
<g stroke="#e5e8f5" stroke-width="1" shape-rendering="crispEdges"><line x1="101.4" x2="101.4" y1="507" y2="570"/><line x1="259.7" x2="259.7" y1="507" y2="570"/><line x1="418.1" x2="418.1" y1="507" y2="570"/><line x1="576.4" x2="576.4" y1="507" y2="570"/><line x1="734.7" x2="734.7" y1="507" y2="570"/><line x1="893.1" x2="893.1" y1="507" y2="570"/><line x1="1051.4" x2="1051.4" y1="507" y2="570"/></g>
<path d="M62.0,558.9 L63.7,558.7 L64.6,559.4 L66.9,559.4 L68.1,559.2 L71.4,559.6 L74.3,559.5 L76.6,559.7 L79.1,559.4 L83.9,558.5 L85.8,559.3 L90.6,559.8 L93.5,559.7 L98.4,559.4 L101.2,558.9 L103.2,558.7 L104.7,558.2 L106.6,556.9 L109.9,556.6 L112.8,555.4 L115.7,554.1 L118.6,553.6 L120.5,554.0 L123.4,553.3 L126.7,553.0 L129.2,553.0 L135.0,552.6 L137.9,551.7 L141.1,553.2 L144.0,551.9 L147.1,552.3 L150.4,552.0 L152.3,551.4 L156.2,551.1 L160.0,550.3 L164.8,551.4 L172.5,550.7 L175.8,548.7 L178.8,548.7 L180.9,549.6 L182.9,550.0 L186.7,551.1 L189.8,550.8 L196.1,550.7 L199.8,550.2 L206.5,550.5 L211.7,551.0 L214.2,551.4 L217.6,551.7 L221.1,551.0 L223.2,551.0 L225.9,551.9 L228.4,553.3 L229.9,552.9 L232.2,553.2 L235.1,552.0 L237.2,551.3 L238.4,551.6 L240.3,550.3 L242.0,551.7 L243.5,551.7 L246.8,550.6 L251.4,551.1 L257.2,550.7 L259.7,550.2 L262.9,550.5 L266.0,551.1 L269.3,551.6 L270.2,553.7 L270.8,555.7 L273.3,555.1 L276.8,556.4 L278.9,556.0 L282.1,556.1 L284.8,558.8 L287.3,559.2 L291.0,560.1 L294.4,561.8 L296.5,560.6 L299.4,559.8 L301.6,559.4 L308.3,559.0 L312.2,558.6 L318.5,558.3 L321.2,557.7 L322.8,558.0 L325.1,558.7 L327.6,558.4 L329.1,558.8 L331.4,558.4 L333.4,558.5 L335.3,558.3 L340.1,558.1 L342.0,557.6 L344.9,557.6 L347.4,558.1 L352.6,558.4 L354.5,557.8 L356.1,557.9 L357.4,557.7 L359.7,558.0 L362.3,557.7 L364.2,557.8 L367.1,557.1 L370.0,556.6 L373.8,556.3 L376.3,555.9 L378.2,556.1 L380.6,555.9 L383.4,556.7 L384.8,556.3 L386.3,554.1 L387.7,552.9 L389.0,554.5 L390.6,554.0 L392.5,556.0 L395.0,554.7 L398.9,553.5 L400.2,554.2 L401.8,553.9 L403.7,554.8 L405.6,553.6 L407.9,552.5 L409.1,548.9 L411.2,542.2 L412.5,539.7 L414.5,539.6 L415.8,535.5 L417.3,535.7 L419.3,539.2 L421.2,538.6 L423.5,536.5 L425.4,536.4 L427.4,538.1 L429.9,537.5 L432.8,536.9 L436.2,535.1 L438.2,536.5 L440.5,538.0 L442.4,538.1 L444.7,537.9 L446.6,537.1 L449.5,538.6 L451.1,538.2 L454.0,536.0 L456.8,533.9 L458.8,535.3 L460.3,535.5 L462.0,533.6 L463.6,533.1 L465.9,534.4 L469.0,534.6 L471.3,535.7 L472.8,535.6 L476.1,534.4 L479.0,530.8 L480.5,530.6 L482.5,530.7 L484.2,532.0 L485.7,531.4 L487.1,531.8 L488.6,533.0 L490.6,531.6 L492.1,531.1 L493.4,531.0 L494.8,530.8 L496.9,531.1 L498.7,531.7 L500.2,533.7 L502.1,533.9 L504.0,533.6 L506.9,532.0 L509.3,531.9 L511.7,527.4 L514.1,525.6 L516.2,528.1 L517.5,528.1 L519.1,527.5 L521.4,528.7 L523.3,529.0 L525.2,530.5 L527.2,529.0 L529.7,528.2 L531.6,529.1 L532.9,528.7 L534.9,529.7 L536.8,529.9 L538.7,529.6 L540.6,527.5 L542.6,527.2 L544.1,526.2 L545.9,527.6 L549.7,528.0 L551.8,528.9 L553.6,525.9 L555.1,526.5 L556.4,527.4 L558.4,526.5 L560.9,527.3 L562.8,527.1 L564.7,528.0 L566.7,528.5 L569.5,529.4 L572.4,528.2 L575.3,529.6 L577.3,529.9 L579.2,530.4 L582.1,529.7 L584.4,530.2 L586.9,531.4 L588.2,531.5 L590.7,531.9 L593.2,531.5 L595.6,531.7 L599.4,531.1 L602.9,530.8 L605.6,530.0 L610.0,530.4 L611.9,530.4 L616.8,529.5 L619.6,530.1 L622.3,532.1 L624.4,531.5 L625.9,531.6 L627.9,530.2 L630.7,529.9 L633.8,530.8 L635.5,531.3 L637.5,532.9 L639.6,532.6 L641.7,531.9 L643.6,531.6 L646.3,529.1 L648.0,529.2 L650.1,529.8 L652.6,528.4 L654.0,527.9 L656.7,527.8 L658.4,528.1 L659.4,529.1 L662.0,529.8 L664.7,530.2 L666.1,529.9 L667.2,530.2 L668.8,529.3 L670.3,528.1 L671.8,528.4 L673.4,527.9 L675.9,528.5 L678.0,528.4 L681.4,529.5 L682.8,528.4 L684.9,524.4 L686.4,521.6 L688.0,519.7 L689.7,522.1 L691.8,523.1 L693.3,523.5 L696.4,522.7 L699.5,522.3 L702.2,519.8 L703.5,520.8 L705.2,520.2 L706.8,522.7 L708.9,521.8 L710.2,522.1 L711.6,521.6 L713.1,522.7 L716.2,524.9 L717.7,523.9 L719.3,523.5 L721.4,526.1 L723.1,528.4 L724.4,530.3 L726.0,528.7 L727.7,529.4 L729.2,530.5 L731.9,529.5 L735.0,530.1 L738.1,529.5 L741.5,529.4 L743.1,530.2 L744.8,530.3 L747.3,528.9 L749.4,528.6 L751.5,528.9 L752.9,529.4 L755.0,528.8 L757.7,528.7 L760.5,529.2 L763.4,530.0 L765.0,528.7 L766.7,528.9 L768.6,532.0 L770.7,530.1 L773.0,528.6 L775.1,530.1 L776.5,530.7 L778.2,534.8 L779.6,532.3 L781.7,531.5 L784.2,530.7 L787.0,530.4 L789.0,529.8 L790.7,530.2 L793.2,529.7 L795.3,529.4 L797.4,529.6 L799.5,529.0 L802.0,528.6 L803.6,528.9 L805.1,529.7 L807.2,529.4 L809.3,529.4 L811.0,529.7 L813.0,530.1 L816.2,529.3 L818.9,529.3 L820.8,528.9 L823.5,529.2 L825.1,529.5 L827.2,530.4 L829.7,530.7 L831.8,530.0 L834.9,528.7 L836.4,528.8 L838.5,528.0 L840.2,528.0 L842.3,528.4 L843.9,528.1 L846.0,526.9 L847.7,526.6 L849.6,527.2 L851.2,527.7 L852.7,528.0 L854.8,529.0 L856.4,529.3 L858.3,529.0 L860.4,528.4 L861.8,525.5 L863.2,525.7 L864.6,526.7 L867.9,526.0 L870.4,526.3 L872.1,526.1 L874.2,526.1 L876.3,527.4 L877.7,528.7 L879.4,529.2 L880.9,527.5 L884.0,528.2 L887.1,527.7 L889.2,527.8 L891.3,527.9 L893.4,527.4 L895.9,527.2 L898.0,527.3 L900.7,527.0 L902.8,526.5 L904.4,526.8 L905.9,527.7 L908.0,526.7 L911.1,527.0 L915.3,526.7 L918.0,527.5 L919.9,527.5 L921.6,527.8 L925.1,527.3 L926.8,525.9 L928.2,525.0 L929.9,526.5 L933.0,525.9 L935.5,526.2 L937.8,526.5 L939.3,526.0 L940.8,522.0 L942.4,524.4 L943.9,524.0 L945.6,522.7 L947.6,524.6 L950.1,525.5 L951.8,525.7 L953.3,526.0 L955.2,525.2 L957.0,525.7 L958.7,526.6 L960.2,526.9 L962.3,526.5 L965.4,526.0 L967.5,525.4 L970.6,525.2 L973.7,524.5 L975.8,525.1 L977.9,525.0 L980.0,525.0 L982.1,524.6 L983.7,524.5 L985.2,526.0 L986.7,530.6 L988.3,530.8 L989.8,531.9 L991.5,530.9 L994.6,530.9 L997.3,530.7 L999.4,531.6 L1001.5,531.8 L1004.0,531.4 L1006.1,532.2 L1008.8,532.6 L1010.9,532.3 L1013.0,532.2 L1015.1,532.5 L1018.0,533.4 L1019.6,535.1 L1021.7,534.1 L1024.2,532.4 L1027.0,533.5 L1029.0,534.4 L1031.1,533.5 L1033.8,533.9 L1037.0,535.1 L1039.1,534.1 L1041.6,534.2 L1045.1,533.3 L1048.9,532.6 L1050.3,532.6 L1053.0,532.0 L1054.7,532.1 L1057.6,532.8 L1061.0,532.4 L1063.5,532.9 L1065.6,533.4 L1067.2,533.1 L1068.7,534.9 L1071.4,534.9 L1073.3,535.2 L1075.0,534.2 L1078.1,534.1 L1080.2,534.1 L1081.8,533.7 L1083.7,533.9 L1086.0,533.2 L1088.3,532.9 L1089.8,533.2 L1091.9,534.2 L1093.7,534.3 L1095.3,534.1 L1097.3,534.4 L1098.6,534.9 L1099.3,536.0 L1099.8,537.8 L1100.4,538.6 L1101.4,537.8 L1102.2,537.5 L1103.4,537.5 L1105.0,537.0 L1106.3,536.5 L1108.2,536.3 L1110.1,536.2 L1112.0,536.1 L1114.2,536.0 L1115.5,536.4 L1117.6,537.1 L1118.5,536.7 L1119.4,535.9 L1120.6,536.4 L1121.9,536.7 L1124.0,536.7 L1125.5,536.3 L1127.1,536.3 L1128.7,536.8 L1130.7,537.5 L1132.2,537.9 L1133.9,538.3 L1135.2,536.8 L1136.4,537.0 L1138.1,536.4 L1139.7,536.6 L1140.9,537.1 L1142.9,538.7 L1144.8,538.4 L1146.7,538.2 L1148.4,537.0 L1149.5,536.2 L1150.8,536.2 L1152.5,536.4 L1154.4,536.2 L1155.7,536.2 L1157.4,535.7 L1158.9,535.5 L1160.4,535.9 L1162.1,536.3 L1162.5,534.8 L1162.5,570 L62,570 Z" fill="#dfe6fd"/>
<g font-size="14.8" font-weight="bold" fill="#8f94a6"><text x="101.0" y="560.5" text-anchor="middle">16</text><text x="259.3" y="560.5" text-anchor="middle">17</text><text x="417.7" y="560.5" text-anchor="middle">18</text><text x="576.0" y="560.5" text-anchor="middle">19</text><text x="734.3" y="560.5" text-anchor="middle">20</text><text x="892.7" y="560.5" text-anchor="middle">21</text><text x="1051.0" y="560.5" text-anchor="middle">22</text></g>
<path d="M62.0,558.9 L63.7,558.7 L64.6,559.4 L66.9,559.4 L68.1,559.2 L71.4,559.6 L74.3,559.5 L76.6,559.7 L79.1,559.4 L83.9,558.5 L85.8,559.3 L90.6,559.8 L93.5,559.7 L98.4,559.4 L101.2,558.9 L103.2,558.7 L104.7,558.2 L106.6,556.9 L109.9,556.6 L112.8,555.4 L115.7,554.1 L118.6,553.6 L120.5,554.0 L123.4,553.3 L126.7,553.0 L129.2,553.0 L135.0,552.6 L137.9,551.7 L141.1,553.2 L144.0,551.9 L147.1,552.3 L150.4,552.0 L152.3,551.4 L156.2,551.1 L160.0,550.3 L164.8,551.4 L172.5,550.7 L175.8,548.7 L178.8,548.7 L180.9,549.6 L182.9,550.0 L186.7,551.1 L189.8,550.8 L196.1,550.7 L199.8,550.2 L206.5,550.5 L211.7,551.0 L214.2,551.4 L217.6,551.7 L221.1,551.0 L223.2,551.0 L225.9,551.9 L228.4,553.3 L229.9,552.9 L232.2,553.2 L235.1,552.0 L237.2,551.3 L238.4,551.6 L240.3,550.3 L242.0,551.7 L243.5,551.7 L246.8,550.6 L251.4,551.1 L257.2,550.7 L259.7,550.2 L262.9,550.5 L266.0,551.1 L269.3,551.6 L270.2,553.7 L270.8,555.7 L273.3,555.1 L276.8,556.4 L278.9,556.0 L282.1,556.1 L284.8,558.8 L287.3,559.2 L291.0,560.1 L294.4,561.8 L296.5,560.6 L299.4,559.8 L301.6,559.4 L308.3,559.0 L312.2,558.6 L318.5,558.3 L321.2,557.7 L322.8,558.0 L325.1,558.7 L327.6,558.4 L329.1,558.8 L331.4,558.4 L333.4,558.5 L335.3,558.3 L340.1,558.1 L342.0,557.6 L344.9,557.6 L347.4,558.1 L352.6,558.4 L354.5,557.8 L356.1,557.9 L357.4,557.7 L359.7,558.0 L362.3,557.7 L364.2,557.8 L367.1,557.1 L370.0,556.6 L373.8,556.3 L376.3,555.9 L378.2,556.1 L380.6,555.9 L383.4,556.7 L384.8,556.3 L386.3,554.1 L387.7,552.9 L389.0,554.5 L390.6,554.0 L392.5,556.0 L395.0,554.7 L398.9,553.5 L400.2,554.2 L401.8,553.9 L403.7,554.8 L405.6,553.6 L407.9,552.5 L409.1,548.9 L411.2,542.2 L412.5,539.7 L414.5,539.6 L415.8,535.5 L417.3,535.7 L419.3,539.2 L421.2,538.6 L423.5,536.5 L425.4,536.4 L427.4,538.1 L429.9,537.5 L432.8,536.9 L436.2,535.1 L438.2,536.5 L440.5,538.0 L442.4,538.1 L444.7,537.9 L446.6,537.1 L449.5,538.6 L451.1,538.2 L454.0,536.0 L456.8,533.9 L458.8,535.3 L460.3,535.5 L462.0,533.6 L463.6,533.1 L465.9,534.4 L469.0,534.6 L471.3,535.7 L472.8,535.6 L476.1,534.4 L479.0,530.8 L480.5,530.6 L482.5,530.7 L484.2,532.0 L485.7,531.4 L487.1,531.8 L488.6,533.0 L490.6,531.6 L492.1,531.1 L493.4,531.0 L494.8,530.8 L496.9,531.1 L498.7,531.7 L500.2,533.7 L502.1,533.9 L504.0,533.6 L506.9,532.0 L509.3,531.9 L511.7,527.4 L514.1,525.6 L516.2,528.1 L517.5,528.1 L519.1,527.5 L521.4,528.7 L523.3,529.0 L525.2,530.5 L527.2,529.0 L529.7,528.2 L531.6,529.1 L532.9,528.7 L534.9,529.7 L536.8,529.9 L538.7,529.6 L540.6,527.5 L542.6,527.2 L544.1,526.2 L545.9,527.6 L549.7,528.0 L551.8,528.9 L553.6,525.9 L555.1,526.5 L556.4,527.4 L558.4,526.5 L560.9,527.3 L562.8,527.1 L564.7,528.0 L566.7,528.5 L569.5,529.4 L572.4,528.2 L575.3,529.6 L577.3,529.9 L579.2,530.4 L582.1,529.7 L584.4,530.2 L586.9,531.4 L588.2,531.5 L590.7,531.9 L593.2,531.5 L595.6,531.7 L599.4,531.1 L602.9,530.8 L605.6,530.0 L610.0,530.4 L611.9,530.4 L616.8,529.5 L619.6,530.1 L622.3,532.1 L624.4,531.5 L625.9,531.6 L627.9,530.2 L630.7,529.9 L633.8,530.8 L635.5,531.3 L637.5,532.9 L639.6,532.6 L641.7,531.9 L643.6,531.6 L646.3,529.1 L648.0,529.2 L650.1,529.8 L652.6,528.4 L654.0,527.9 L656.7,527.8 L658.4,528.1 L659.4,529.1 L662.0,529.8 L664.7,530.2 L666.1,529.9 L667.2,530.2 L668.8,529.3 L670.3,528.1 L671.8,528.4 L673.4,527.9 L675.9,528.5 L678.0,528.4 L681.4,529.5 L682.8,528.4 L684.9,524.4 L686.4,521.6 L688.0,519.7 L689.7,522.1 L691.8,523.1 L693.3,523.5 L696.4,522.7 L699.5,522.3 L702.2,519.8 L703.5,520.8 L705.2,520.2 L706.8,522.7 L708.9,521.8 L710.2,522.1 L711.6,521.6 L713.1,522.7 L716.2,524.9 L717.7,523.9 L719.3,523.5 L721.4,526.1 L723.1,528.4 L724.4,530.3 L726.0,528.7 L727.7,529.4 L729.2,530.5 L731.9,529.5 L735.0,530.1 L738.1,529.5 L741.5,529.4 L743.1,530.2 L744.8,530.3 L747.3,528.9 L749.4,528.6 L751.5,528.9 L752.9,529.4 L755.0,528.8 L757.7,528.7 L760.5,529.2 L763.4,530.0 L765.0,528.7 L766.7,528.9 L768.6,532.0 L770.7,530.1 L773.0,528.6 L775.1,530.1 L776.5,530.7 L778.2,534.8 L779.6,532.3 L781.7,531.5 L784.2,530.7 L787.0,530.4 L789.0,529.8 L790.7,530.2 L793.2,529.7 L795.3,529.4 L797.4,529.6 L799.5,529.0 L802.0,528.6 L803.6,528.9 L805.1,529.7 L807.2,529.4 L809.3,529.4 L811.0,529.7 L813.0,530.1 L816.2,529.3 L818.9,529.3 L820.8,528.9 L823.5,529.2 L825.1,529.5 L827.2,530.4 L829.7,530.7 L831.8,530.0 L834.9,528.7 L836.4,528.8 L838.5,528.0 L840.2,528.0 L842.3,528.4 L843.9,528.1 L846.0,526.9 L847.7,526.6 L849.6,527.2 L851.2,527.7 L852.7,528.0 L854.8,529.0 L856.4,529.3 L858.3,529.0 L860.4,528.4 L861.8,525.5 L863.2,525.7 L864.6,526.7 L867.9,526.0 L870.4,526.3 L872.1,526.1 L874.2,526.1 L876.3,527.4 L877.7,528.7 L879.4,529.2 L880.9,527.5 L884.0,528.2 L887.1,527.7 L889.2,527.8 L891.3,527.9 L893.4,527.4 L895.9,527.2 L898.0,527.3 L900.7,527.0 L902.8,526.5 L904.4,526.8 L905.9,527.7 L908.0,526.7 L911.1,527.0 L915.3,526.7 L918.0,527.5 L919.9,527.5 L921.6,527.8 L925.1,527.3 L926.8,525.9 L928.2,525.0 L929.9,526.5 L933.0,525.9 L935.5,526.2 L937.8,526.5 L939.3,526.0 L940.8,522.0 L942.4,524.4 L943.9,524.0 L945.6,522.7 L947.6,524.6 L950.1,525.5 L951.8,525.7 L953.3,526.0 L955.2,525.2 L957.0,525.7 L958.7,526.6 L960.2,526.9 L962.3,526.5 L965.4,526.0 L967.5,525.4 L970.6,525.2 L973.7,524.5 L975.8,525.1 L977.9,525.0 L980.0,525.0 L982.1,524.6 L983.7,524.5 L985.2,526.0 L986.7,530.6 L988.3,530.8 L989.8,531.9 L991.5,530.9 L994.6,530.9 L997.3,530.7 L999.4,531.6 L1001.5,531.8 L1004.0,531.4 L1006.1,532.2 L1008.8,532.6 L1010.9,532.3 L1013.0,532.2 L1015.1,532.5 L1018.0,533.4 L1019.6,535.1 L1021.7,534.1 L1024.2,532.4 L1027.0,533.5 L1029.0,534.4 L1031.1,533.5 L1033.8,533.9 L1037.0,535.1 L1039.1,534.1 L1041.6,534.2 L1045.1,533.3 L1048.9,532.6 L1050.3,532.6 L1053.0,532.0 L1054.7,532.1 L1057.6,532.8 L1061.0,532.4 L1063.5,532.9 L1065.6,533.4 L1067.2,533.1 L1068.7,534.9 L1071.4,534.9 L1073.3,535.2 L1075.0,534.2 L1078.1,534.1 L1080.2,534.1 L1081.8,533.7 L1083.7,533.9 L1086.0,533.2 L1088.3,532.9 L1089.8,533.2 L1091.9,534.2 L1093.7,534.3 L1095.3,534.1 L1097.3,534.4 L1098.6,534.9 L1099.3,536.0 L1099.8,537.8 L1100.4,538.6 L1101.4,537.8 L1102.2,537.5 L1103.4,537.5 L1105.0,537.0 L1106.3,536.5 L1108.2,536.3 L1110.1,536.2 L1112.0,536.1 L1114.2,536.0 L1115.5,536.4 L1117.6,537.1 L1118.5,536.7 L1119.4,535.9 L1120.6,536.4 L1121.9,536.7 L1124.0,536.7 L1125.5,536.3 L1127.1,536.3 L1128.7,536.8 L1130.7,537.5 L1132.2,537.9 L1133.9,538.3 L1135.2,536.8 L1136.4,537.0 L1138.1,536.4 L1139.7,536.6 L1140.9,537.1 L1142.9,538.7 L1144.8,538.4 L1146.7,538.2 L1148.4,537.0 L1149.5,536.2 L1150.8,536.2 L1152.5,536.4 L1154.4,536.2 L1155.7,536.2 L1157.4,535.7 L1158.9,535.5 L1160.4,535.9 L1162.1,536.3 L1162.5,534.8" fill="none" stroke="#6089f0" stroke-width="1.7" stroke-linejoin="round"/>
<g filter="url(#sh)"><rect x="56.3" y="524.3" width="12.8" height="24.4" rx="6.4" fill="#fff"/><rect x="1156" y="524.3" width="12.8" height="24.4" rx="6.4" fill="#fff"/></g>
<g stroke="#8d93a6" stroke-width="1"><path d="M61.4,532.5v8.3M64.5,532.5v8.3M1161.2,532.5v8.3M1163.4,532.5v8.3"/></g>
</g>
</svg>
<div class="cb cb1"><svg width="18" height="18" viewBox="0 0 18 18" style="position:absolute;left:0;top:0"><path d="M3.5,9.8 L6.9,13.0 L13.8,5.0" fill="none" stroke="#fff" stroke-width="1.75" stroke-linecap="round" stroke-linejoin="round"/></svg></div>
<div class="lbl" style="left:43px">USD</div>
<div class="cb cb2"></div>
<div class="lbl" style="left:152px">BTC</div>
<div class="api">Want more data? <span>Check out our API</span></div>
</body></html>
